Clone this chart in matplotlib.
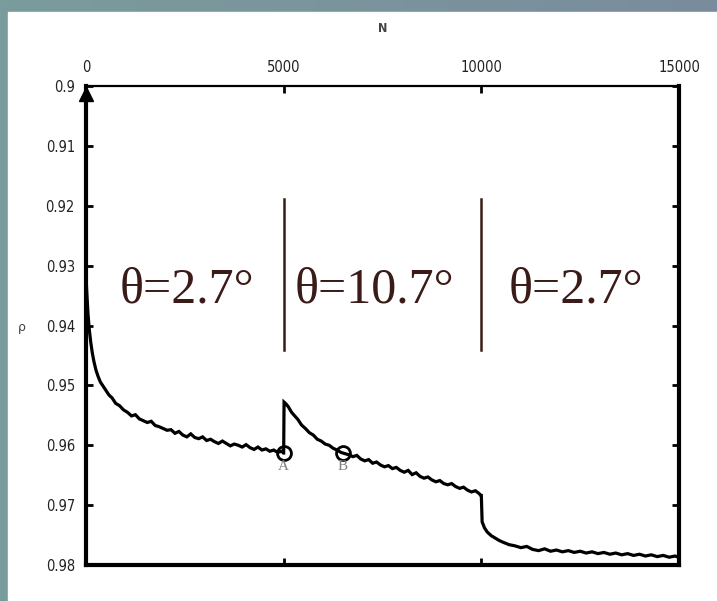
import numpy as np
import matplotlib
matplotlib.use("Agg")
import matplotlib.pyplot as plt

# ---------------- data ----------------
n_seg1 = [0, 20, 50, 80, 120, 160, 200, 250, 300, 360,
          420, 500, 580, 660, 750, 850, 950, 1050, 1150, 1250,
          1350, 1450, 1550, 1650, 1750, 1850, 1950, 2050, 2150, 2250,
          2350, 2450, 2550, 2650, 2750, 2850, 2950, 3050, 3150, 3250,
          3350, 3450, 3550, 3650, 3750, 3850, 3950, 4050, 4150, 4250,
          4350, 4450, 4550, 4650, 4750, 4850, 4950, 4995]
v_seg1 = [0.9317, 0.9345, 0.9380, 0.9405, 0.9428, 0.9446, 0.9460, 0.9474, 0.9484, 0.9494,
          0.9500, 0.9508, 0.9516, 0.9521, 0.9530, 0.9534, 0.9541, 0.9545, 0.9551, 0.9549,
          0.9556, 0.9559, 0.9562, 0.9560, 0.9567, 0.9569, 0.9572, 0.9575, 0.9574, 0.9580,
          0.9577, 0.9583, 0.9586, 0.9581, 0.9587, 0.9589, 0.9586, 0.9592, 0.9590, 0.9594,
          0.9597, 0.9593, 0.9597, 0.9601, 0.9598, 0.9600, 0.9603, 0.9599, 0.9604, 0.9607,
          0.9603, 0.9608, 0.9606, 0.9610, 0.9608, 0.9612, 0.9610, 0.9613]

n_seg2 = [5000, 5010, 5060, 5120, 5200, 5280, 5360, 5450, 5550, 5650,
          5750, 5850, 5950, 6050, 6150, 6250, 6350, 6450, 6550, 6650,
          6750, 6850, 6950, 7050, 7150, 7250, 7350, 7450, 7550, 7650,
          7750, 7850, 7950, 8050, 8150, 8250, 8350, 8450, 8550, 8650,
          8750, 8850, 8950, 9050, 9150, 9250, 9350, 9450, 9550, 9650,
          9750, 9850, 9950, 9990]
v_seg2 = [0.9613, 0.9528, 0.9531, 0.9536, 0.9545, 0.9551, 0.9557, 0.9566, 0.9572, 0.9579,
          0.9583, 0.9590, 0.9593, 0.9598, 0.9600, 0.9605, 0.9608, 0.9612, 0.9614, 0.9616,
          0.9619, 0.9617, 0.9623, 0.9626, 0.9624, 0.9630, 0.9628, 0.9633, 0.9636, 0.9634,
          0.9639, 0.9637, 0.9642, 0.9645, 0.9642, 0.9649, 0.9646, 0.9652, 0.9655, 0.9653,
          0.9658, 0.9661, 0.9659, 0.9664, 0.9666, 0.9664, 0.9669, 0.9672, 0.9670, 0.9675,
          0.9678, 0.9676, 0.9681, 0.9684]

n_seg3 = [10000, 10020, 10080, 10150, 10250, 10350, 10450, 10550, 10700, 10850,
          11000, 11150, 11300, 11450, 11600, 11750, 11900, 12050, 12200, 12350,
          12500, 12650, 12800, 12950, 13100, 13250, 13400, 13550, 13700, 13850,
          14000, 14150, 14300, 14450, 14600, 14750, 14900, 14980]
v_seg3 = [0.9684, 0.9728, 0.9738, 0.9745, 0.9751, 0.9755, 0.9759, 0.9762, 0.9766, 0.9768,
          0.9771, 0.9769, 0.9774, 0.9776, 0.9773, 0.9777, 0.9775, 0.9778, 0.9776, 0.9779,
          0.9777, 0.9780, 0.9778, 0.9781, 0.9779, 0.9782, 0.9780, 0.9783, 0.9781, 0.9784,
          0.9782, 0.9785, 0.9783, 0.9786, 0.9784, 0.9787, 0.9785, 0.9787]

point_names = ["A", "B"]
point_n = [5000, 6490]
point_v = [0.9613, 0.9613]

x_ticks = [0, 5000, 10000, 15000]
x_ticklabels = ["0", "5000", "10000", "15000"]
y_ticks = [0.90, 0.91, 0.92, 0.93, 0.94, 0.95, 0.96, 0.97, 0.98]
y_ticklabels = ["0.9", "0.91", "0.92", "0.93", "0.94", "0.95", "0.96", "0.97", "0.98"]

regions = ["θ=2.7°", "θ=10.7°", "θ=2.7°"]
region_centers = [2550, 7300, 12400]
boundaries = [5000, 10000]

# ---------------- figure ----------------
W, H = 717, 601
fig = plt.figure(figsize=(W / 100, H / 100), dpi=100)

# background gradient frame
bg = fig.add_axes([0, 0, 1, 1])
grad = np.linspace(0, 1, 256)[None, :]
c0 = np.array([0x7a, 0x9c, 0x9c]) / 255
c1 = np.array([0x7b, 0x8c, 0x9c]) / 255
img = c0[None, None, :] * (1 - grad[..., None]) + c1[None, None, :] * grad[..., None]
bg.imshow(img, extent=[0, 1, 0, 1], aspect="auto")
bg.add_patch(plt.Rectangle((8 / W, 0), 1, 1 - 12 / H, color="white"))
bg.set_xlim(0, 1)
bg.set_ylim(0, 1)
bg.axis("off")

left, right, top, bottom = 86, 679, 86, 565
ax = fig.add_axes([left / W, 1 - bottom / H, (right - left) / W, (bottom - top) / H])
ax.set_facecolor("none")

n_all = n_seg1 + n_seg2 + n_seg3
v_all = v_seg1 + v_seg2 + v_seg3
ax.plot(n_all, v_all, color="black", lw=2.3, solid_joinstyle="miter")

ax.plot(point_n, point_v, "o", ms=10, mfc="none", mec="black", mew=2)
for name, n, v in zip(point_names, point_n, point_v):
    ax.text(n, v + 0.0022, name, ha="center", va="center", color="#808080",
            fontsize=11, family="Liberation Serif")

ax.set_xlim(0, 15000)
ax.set_ylim(0.98, 0.90)

ax.xaxis.tick_top()
ax.set_xticks(x_ticks)
ax.set_xticklabels(x_ticklabels)
ax.set_yticks(y_ticks)
ax.set_yticklabels(y_ticklabels)
ax.tick_params(axis="both", direction="in", length=5, width=2, labelsize=10.5,
               colors="black", labelcolor="#222222", pad=8,
               top=True, bottom=True, left=True, right=True,
               labeltop=True, labelbottom=False)
for lab in ax.get_xticklabels() + ax.get_yticklabels():
    lab.set_family("DejaVu Sans")
    lab.set_fontstretch("condensed")

for side, lw in [("left", 3), ("bottom", 3), ("right", 3), ("top", 1.6)]:
    ax.spines[side].set_linewidth(lw)
    ax.spines[side].set_color("black")

# arrow head on top of y axis
ax.plot([0], [0.9013], marker="^", ms=10, color="black", clip_on=False)

# axis labels
fig.text(383 / W, 1 - 28 / H, "N", ha="center", va="center", fontsize=9,
         color="#444444", family="DejaVu Sans", fontstretch="condensed", weight="bold")
fig.text(22 / W, 1 - 328 / H, "ρ", ha="center", va="center", fontsize=9,
         color="#444444")

# region annotations
brown = "#3a1b17"
for b in boundaries:
    ax.plot([b, b], [0.91883, 0.94417], color=brown, lw=1.8)
for txt, c in zip(regions, region_centers):
    ax.text(c, 0.93617, txt, ha="center", va="baseline", fontsize=36,
            color=brown, family="Liberation Serif")

fig.savefig("out.png", dpi=100)
